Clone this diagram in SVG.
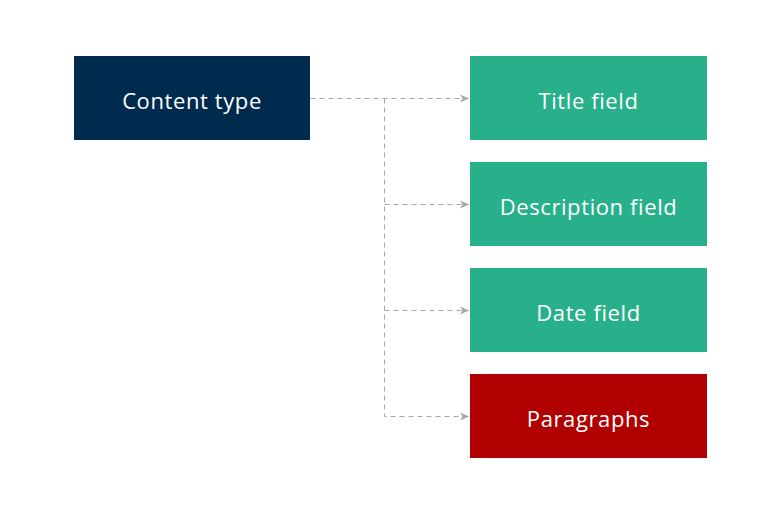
<svg xmlns="http://www.w3.org/2000/svg" width="769" height="512" viewBox="0 0 769 512">
<style>
.lbl{font-family:"Open Sans","DejaVu Sans",sans-serif;font-size:22px;letter-spacing:0.6px;fill:#ffffff;text-anchor:middle;dominant-baseline:central}
.conn{fill:none;stroke:#a6a6a6;stroke-width:1;stroke-dasharray:5,4}
.green{fill:#28b08b}
</style>
<defs>
<marker id="ah" markerWidth="9" markerHeight="9" refX="9" refY="4.5" orient="auto" markerUnits="userSpaceOnUse">
<path d="M0,0.5 L9,4.5 L0,8.5 L2.5,4.5 Z" fill="#a6a6a6"/>
</marker>
</defs>
<rect width="769" height="512" fill="#ffffff"/>
<g id="connectors">
<path class="conn" d="M310.5,98.5 H469" marker-end="url(#ah)"/>
<path class="conn" d="M384.5,98.5 V416.5 H469" marker-end="url(#ah)"/>
<path class="conn" d="M384.5,204.5 H469" marker-end="url(#ah)"/>
<path class="conn" d="M384.5,310.5 H469" marker-end="url(#ah)"/>
</g>
<g id="content-type">
<rect x="74" y="56" width="236" height="84" fill="#002b4f"/>
<text class="lbl" x="192" y="100">Content type</text>
</g>
<g id="title-field">
<rect class="green" x="470" y="56" width="237" height="84"/>
<text class="lbl" x="588.5" y="100">Title field</text>
</g>
<g id="description-field">
<rect class="green" x="470" y="162" width="237" height="84"/>
<text class="lbl" x="588.5" y="206">Description field</text>
</g>
<g id="date-field">
<rect class="green" x="470" y="268" width="237" height="84"/>
<text class="lbl" x="588.5" y="312">Date field</text>
</g>
<g id="paragraphs">
<rect x="470" y="374" width="237" height="84" fill="#b00000"/>
<text class="lbl" x="588.5" y="418">Paragraphs</text>
</g>
</svg>
